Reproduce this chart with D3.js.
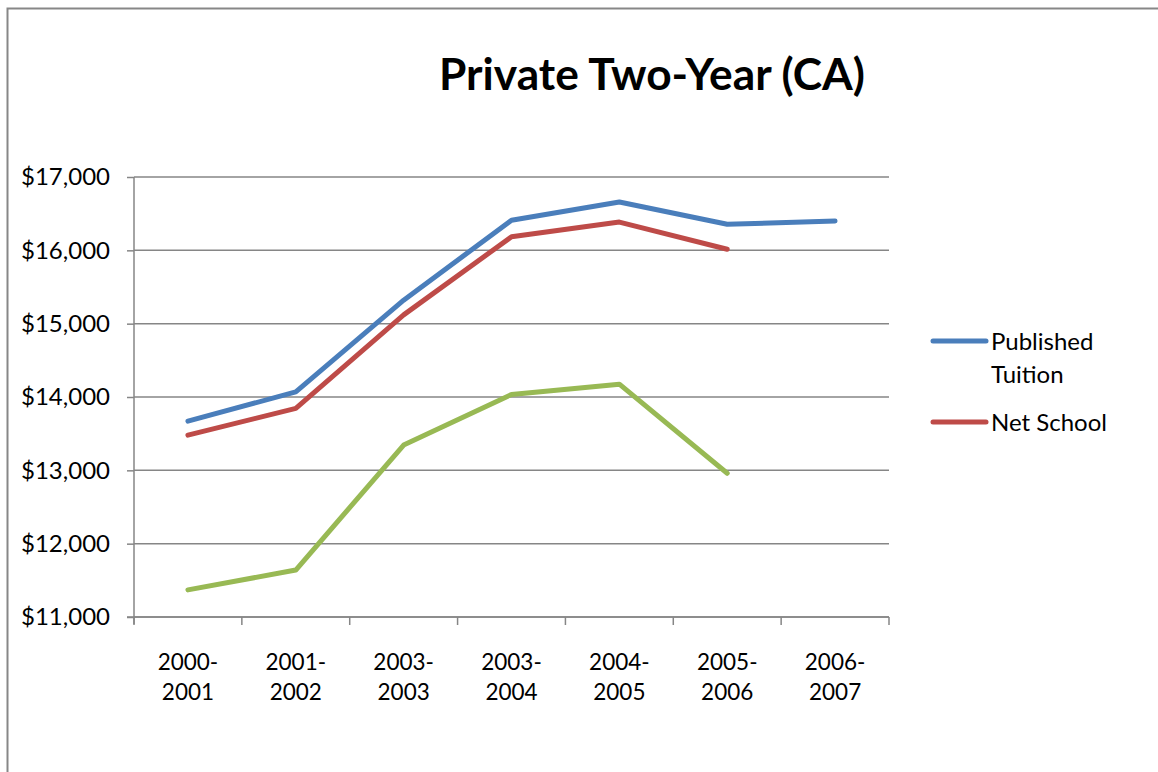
<!DOCTYPE html>
<html><head><meta charset="utf-8">
<script src="https://cdn.jsdelivr.net/npm/d3@7"></script>
<style>
html,body{margin:0;padding:0;background:#fff;}
svg{display:block;}
text{font-family:Lato,"Open Sans",sans-serif;fill:#000;}
</style></head>
<body>
<svg id="chart" width="1158" height="772"></svg>
<script>
const title = "Private Two-Year (CA)";
const categories = ["2000-2001","2001-2002","2003-2003","2003-2004","2004-2005","2005-2006","2006-2007"];
const publishedTuition = [13670, 14070, 15320, 16410, 16660, 16355, 16400];
const netSchool = [13480, 13845, 15120, 16185, 16385, 16015, null];
const thirdSeries = [11370, 11640, 13345, 14035, 14175, 12960, null];
const yTicks = [11000, 12000, 13000, 14000, 15000, 16000, 17000];
const seriesNames = ["Published Tuition", "Net School", ""];
const seriesColors = ["#4A7EBB", "#BE4B48", "#98B954"];

(function(){
const svg = d3.select("#chart");
const pLeft = 134, pRight = 889, pTop = 177, pBottom = 617;

// outer border
svg.append("path").attr("d", "M7.5,800 V8.5 H1170")
  .attr("fill","none").attr("stroke","#878787").attr("stroke-width",2);

const x = d3.scaleBand().domain(categories).range([pLeft, pRight]).padding(0);
const y = d3.scaleLinear().domain([11000, 17000]).range([pBottom, pTop]);

// gridlines
svg.append("g").selectAll("line").data(yTicks).join("line")
  .attr("x1", pLeft).attr("x2", pRight)
  .attr("y1", d => y(d)).attr("y2", d => y(d))
  .attr("stroke", "#868686").attr("stroke-width", 1.5);

// y axis
const yAxis = svg.append("g").attr("transform", `translate(${pLeft},0)`)
  .call(d3.axisLeft(y).tickValues(yTicks).tickSize(7).tickPadding(17)
    .tickFormat(d => "$" + d3.format(",")(d)));
yAxis.select(".domain").attr("stroke","#868686").attr("stroke-width",1.5)
  .attr("d", `M0,${pTop}V${pBottom+7}`);
yAxis.selectAll(".tick line").attr("stroke","#868686").attr("stroke-width",1.5);
yAxis.selectAll("text").attr("font-size", 24).attr("font-family","Lato,sans-serif").attr("fill","#000");

// x axis
const xAxis = svg.append("g").attr("transform", `translate(0,${pBottom})`)
  .call(d3.axisBottom(x).tickSize(0).tickPadding(0).tickFormat(""));
xAxis.select(".domain").attr("stroke","#868686").attr("stroke-width",1.5)
  .attr("d", `M${pLeft-7},0H${pRight}`);
const edges = categories.map(c => x(c)).concat([x.range()[1]]);
xAxis.selectAll("line.edge").data(edges).join("line").attr("class","edge")
  .attr("x1", d => d).attr("x2", d => d).attr("y1", 0).attr("y2", 8)
  .attr("stroke","#868686").attr("stroke-width",1.5);
xAxis.selectAll(".tick").each(function(d){
  const parts = d.split("-");
  const t = d3.select(this).append("text").attr("text-anchor","middle")
    .attr("font-size", 22.5).attr("font-family","Lato,sans-serif").attr("fill","#000");
  t.append("tspan").attr("x",0).attr("y",53).text(parts[0] + "-");
  t.append("tspan").attr("x",0).attr("y",83).text(parts[1]);
});

// lines
const allSeries = [publishedTuition, netSchool, thirdSeries];
const line = d3.line()
  .defined(d => d != null)
  .x((d,i) => x(categories[i]) + x.bandwidth()/2)
  .y(d => y(d));
allSeries.forEach((s, k) => {
  svg.append("path").datum(s).attr("d", line)
    .attr("fill","none").attr("stroke", seriesColors[k])
    .attr("stroke-width", 5).attr("stroke-linejoin","round").attr("stroke-linecap","round");
});

// legend
const legendItems = [
  {name: seriesNames[0], color: seriesColors[0], lines: ["Published","Tuition"], y: 341},
  {name: seriesNames[1], color: seriesColors[1], lines: ["Net School"], y: 422}
];
legendItems.forEach(it => {
  svg.append("line").attr("x1", 933).attr("x2", 986).attr("y1", it.y).attr("y2", it.y)
    .attr("stroke", it.color).attr("stroke-width", 5).attr("stroke-linecap","round");
  const t = svg.append("text").attr("font-size", 24);
  it.lines.forEach((l, i) => {
    t.append("tspan").attr("x", 991).attr("y", it.y + 9 + i*33).text(l);
  });
});

// title
const tt = svg.append("text").attr("x", 652).attr("y", 90).attr("text-anchor","middle")
  .attr("font-size", 40).attr("font-weight","bold").text(title);
const w = tt.node().getComputedTextLength();
tt.attr("font-size", 40 * 426 / w);
})();
</script>
</body></html>
